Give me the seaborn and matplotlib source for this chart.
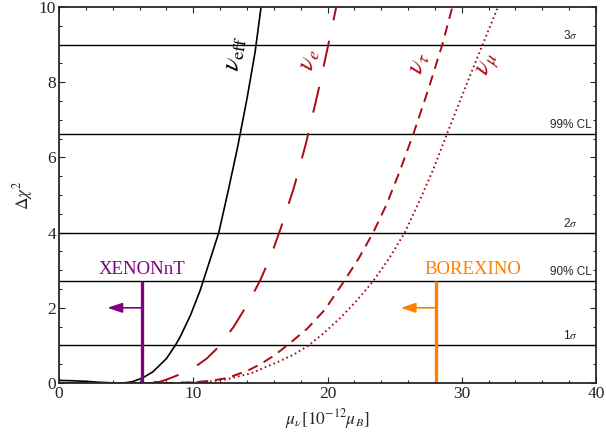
import numpy as np
import pandas as pd
import matplotlib
matplotlib.use('Agg')
import matplotlib.pyplot as plt
import seaborn as sns

# curves (mu_nu in 1e-12 mu_B, delta chi^2)
eff_x = [0, 1, 2, 3, 4, 4.5, 5, 5.5, 6.2, 7, 8, 8.66, 9.0, 9.8, 10.5, 11.2, 11.9, 12.6, 13.3, 14.0, 14.6, 15.05]
eff_y = [0.07, 0.06, 0.045, 0.02, 0.005, 0.0, 0.01, 0.04, 0.13, 0.3, 0.65, 1.0, 1.21, 1.81, 2.45, 3.22, 4.0, 5.11, 6.27, 7.56, 8.79, 10.0]

nue_x = [0, 5, 7.5, 8.3, 9.2, 10.1, 11.0, 11.8, 13.0, 14.1, 15.0, 15.8, 16.5, 17.5, 18.4, 19.3, 20.0, 20.65]
nue_y = [0, 0, 0.03, 0.13, 0.26, 0.42, 0.65, 0.93, 1.49, 2.13, 2.74, 3.4, 4.1, 5.2, 6.38, 7.75, 8.9, 10.0]

nutau_x = [0, 8, 10, 11.3, 12.5, 14.0, 15.0, 16.1, 17.2, 18.5, 19.8, 21.2, 22.3, 23.4, 24.4, 25.4, 26.4, 27.5, 28.55, 29.3]
nutau_y = [0, 0, 0.02, 0.06, 0.13, 0.32, 0.5, 0.75, 1.06, 1.45, 1.95, 2.69, 3.3, 4.0, 4.75, 5.65, 6.63, 7.8, 9.0, 10.0]

numu_x = [0, 9, 11, 12.5, 14.3, 16.3, 17.5, 18.6, 19.8, 21.0, 22.2, 23.4, 24.6, 25.75, 26.8, 27.9, 28.9, 30.2, 31.55, 32.7]
numu_y = [0, 0, 0.03, 0.1, 0.26, 0.56, 0.76, 1.0, 1.35, 1.75, 2.2, 2.71, 3.32, 4.0, 4.8, 5.7, 6.63, 7.8, 9.0, 10.0]

# confidence levels
cl_values = [1.0, 2.71, 4.0, 6.63, 9.0]
cl_labels = ['1$\\sigma$', '90% CL', '2$\\sigma$', '99% CL', '3$\\sigma$']

# experimental bounds
exp_names = ['XENONnT', 'BOREXINO']
exp_bounds = [6.2, 28.05]
exp_colors = ['#800080', '#FF8000']

sns.set_style('ticks')
plt.rcParams['font.family'] = ['Liberation Serif', 'DejaVu Serif']
plt.rcParams['mathtext.fontset'] = 'stix'

fig = plt.figure(figsize=(6.06, 4.40), dpi=100)
ax = fig.add_axes([0.0974, 0.1295, 0.8861, 0.8545])

red = '#AA0A14'
lw_c = 1.4
sns.lineplot(x=eff_x, y=eff_y, ax=ax, color='black', lw=1.2, estimator=None, sort=False)
sns.lineplot(x=nue_x, y=nue_y, ax=ax, color=red, lw=lw_c, estimator=None, sort=False,
             linestyle=(0, (19 / lw_c, 15 / lw_c)))
sns.lineplot(x=nutau_x, y=nutau_y, ax=ax, color=red, lw=lw_c, estimator=None, sort=False,
             linestyle=(0, (7.5 / lw_c, 5 / lw_c)))
sns.lineplot(x=numu_x, y=numu_y, ax=ax, color=red, lw=lw_c, estimator=None, sort=False,
             linestyle=(0, (1.2 / lw_c, 2.2 / lw_c)))

for v, lab in zip(cl_values, cl_labels):
    ax.axhline(v, color='black', lw=1.0, zorder=1)
    ax.text(38.1, v + 0.08, lab, ha='center', va='bottom', fontsize=8.5,
            family=['Liberation Sans', 'DejaVu Sans'])

for name, xb, col, lx in zip(exp_names, exp_bounds, exp_colors, [6.2, 30.8]):
    ax.plot([xb, xb], [0, cl_values[1]], color=col, lw=2.4, solid_capstyle='butt')
    ax.annotate('', xy=(xb - 2.6, 2.0), xytext=(xb, 2.0),
                arrowprops=dict(arrowstyle='-|>,head_length=0.9,head_width=0.3',
                                color=col, lw=1.2, shrinkA=0, shrinkB=0))
    ax.text(lx, 2.8, name, color=col, ha='center', va='bottom', fontsize=13.5)

# curve labels
ax.text(13.2, 8.75, '$\\nu_{\\rm eff}$', rotation=80, ha='center', va='center', fontsize=18.5, color='black')
ax.text(18.7, 8.6, '$\\nu_e$', rotation=76, ha='center', va='center', fontsize=18.5, color=red)
ax.text(26.9, 8.5, '$\\nu_\\tau$', rotation=73, ha='center', va='center', fontsize=18.5, color=red)
ax.text(32.0, 8.45, '$\\nu_\\mu$', rotation=68, ha='center', va='center', fontsize=18.5, color=red)

ax.set_xlim(0, 40)
ax.set_ylim(0, 10)
ax.set_xticks([0, 10, 20, 30, 40])
ax.set_xticks(np.arange(0, 40.1, 2), minor=True)
ax.set_yticks([0, 2, 4, 6, 8, 10])
ax.set_yticks(np.arange(0, 10.01, 0.5), minor=True)
ax.tick_params(which='both', direction='in', top=True, right=True, labelsize=12.5, pad=2, width=0.8)
ax.tick_params(which='major', length=4.5)
ax.tick_params(which='minor', length=2.5)
for s in ax.spines.values():
    s.set_linewidth(1.3)
ax.set_xlabel('$\\mu_\\nu[10^{-12}\\mu_B]$', fontsize=12.5, labelpad=4)
ax.set_ylabel('$\\Delta\\chi^2$', fontsize=12.5, labelpad=3)

fig.savefig('out.png', dpi=100)
